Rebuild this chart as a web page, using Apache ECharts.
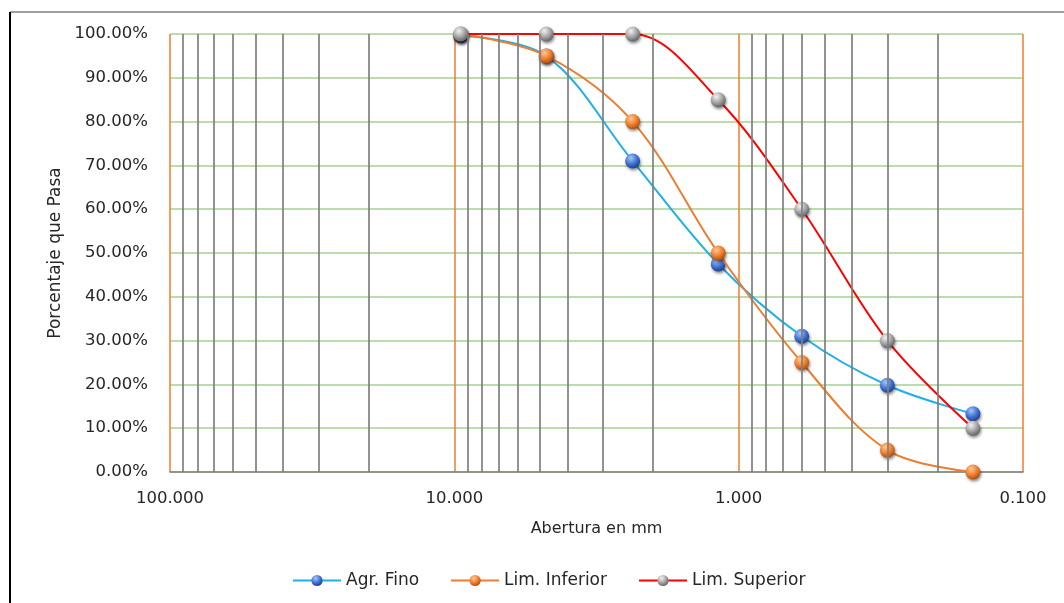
<!DOCTYPE html>
<html><head><meta charset="utf-8">
<script src="https://cdn.jsdelivr.net/npm/echarts@6/dist/echarts.min.js"></script>
<style>html,body{margin:0;padding:0;background:#fff}#c{width:1064px;height:603px}</style>
</head><body><div id="c"></div>
<script>
var sizes = [9.5, 4.75, 2.36, 1.18, 0.6, 0.3, 0.15];
var agrFino = [99.6, 95, 71, 47.5, 31, 19.8, 13.3];
var limInferior = [100, 95, 80, 50, 25, 5, 0];
var limSuperior = [100, 100, 100, 85, 60, 30, 10];
var minorLines = [90, 80, 70, 60, 50, 40, 30, 20, 9, 8, 7, 6, 5, 4, 3, 2, 0.9, 0.8, 0.7, 0.6, 0.5, 0.4, 0.3, 0.2];
var names = ['Agr. Fino', 'Lim. Inferior', 'Lim. Superior'];

function pairs(vals){ return sizes.map(function(s,i){ return [s, vals[i]]; }); }
function sphere(c0,c1,c2){
  return new echarts.graphic.RadialGradient(0.38, 0.3, 0.75, [
    {offset:0, color:c0},{offset:0.55, color:c1},{offset:1, color:c2}]);
}
var font = 'DejaVu Sans';
var txt = '#262626';
var chart = echarts.init(document.getElementById('c'));
function mkSeries(name, vals, lineColor, g, z){
  return {
    name: name, type: 'line', data: pairs(vals), smooth: 0.35, z: z,
    symbol: 'circle', symbolSize: 15,
    lineStyle: {color: lineColor, width: 2},
    itemStyle: {color: g, shadowBlur: 3, shadowColor: 'rgba(0,0,0,0.45)', shadowOffsetX: 1, shadowOffsetY: 2},
    emphasis: {disabled: true}
  };
}
chart.setOption({
  animation: false,
  textStyle: {fontFamily: font},
  grid: {left: 170, right: 41, top: 34, bottom: 131},
  xAxis: {
    type: 'log', logBase: 10, min: 0.1, max: 100, inverse: true,
    name: 'Abertura en mm', nameLocation: 'middle', nameGap: 49,
    nameTextStyle: {fontFamily: font, fontSize: 16, color: txt},
    axisLine: {show: true, lineStyle: {color: '#808080', width: 1.5}},
    axisTick: {show: false},
    axisLabel: {fontFamily: font, fontSize: 16.5, color: txt, margin: 18,
      formatter: function(v){ return Number(v).toFixed(3); }},
    splitLine: {show: true, lineStyle: {color: '#ED7D31', width: 1.5}}
  },
  yAxis: {
    type: 'value', min: 0, max: 100, interval: 10,
    name: 'Porcentaje que Pasa', nameLocation: 'middle', nameGap: 106, nameRotate: 90,
    nameTextStyle: {fontFamily: font, fontSize: 17, color: txt},
    axisLine: {show: false}, axisTick: {show: false},
    axisLabel: {fontFamily: font, fontSize: 16.5, color: txt, margin: 22,
      formatter: function(v){ return v.toFixed(2) + '%'; }},
    splitLine: {show: true, lineStyle: {color: '#A9D18E', width: 1.5}}
  },
  legend: {
    data: names, top: 567, left: 287, itemWidth: 48, itemHeight: 14, itemGap: 31,
    textStyle: {fontFamily: font, fontSize: 17, color: txt}
  },
  graphic: [
    {type: 'line', shape: {x1: 10, y1: 12, x2: 1064, y2: 12}, style: {stroke: '#808080', lineWidth: 1.5}, z: -1},
    {type: 'line', shape: {x1: 10, y1: 12, x2: 10, y2: 603}, style: {stroke: '#000', lineWidth: 2}, z: -1}
  ],
  series: [
    {
      name: 'minor', type: 'line', data: [], z: 1, silent: true,
      markLine: {
        silent: true, symbol: ['none', 'none'], label: {show: false},
        lineStyle: {color: '#7F7F7F', width: 1.7, type: 'solid'},
        data: minorLines.map(function(v){ return {xAxis: v}; })
      }
    },
    mkSeries(names[0], agrFino, '#1FB0E8', sphere('#a9c4f5', '#3f72d4', '#1b3a85'), 2),
    mkSeries(names[1], limInferior, '#ED7D31', sphere('#fcc896', '#ee7f2c', '#a8480c'), 3),
    mkSeries(names[2], limSuperior, '#FF0000', sphere('#f2f2f2', '#a3a3a3', '#5c5c5c'), 4)
  ]
});
</script></body></html>
